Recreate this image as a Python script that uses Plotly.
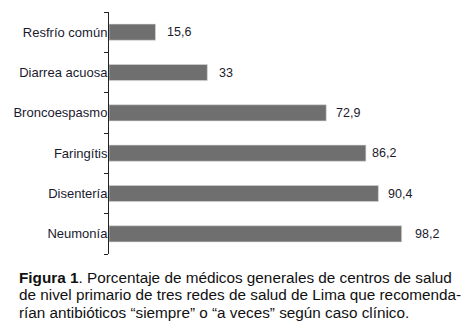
import plotly.graph_objects as go

categories = ["Resfrío común", "Diarrea acuosa", "Broncoespasmo", "Faringítis", "Disentería", "Neumonía"]
values = [15.6, 33, 72.9, 86.2, 90.4, 98.2]
value_labels = ["15,6", "33", "72,9", "86,2", "90,4", "98,2"]
label_shift = [10, 10, 8, 4, 8, 11]
caption_lines = [
    "<b>Figura 1</b>. Porcentaje de médicos generales de centros de salud",
    "de nivel primario de tres redes de salud de Lima que recomenda-",
    "rían antibióticos “siempre” o “a veces” según caso clínico.",
]

W, H = 470, 335
L, T = 109, 12
PLOT_H = 242
PLOT_W = 298

fig = go.Figure()
fig.add_trace(go.Bar(
    x=values, y=categories, orientation="h", width=0.4,
    marker=dict(color="#6f6f6f", line=dict(color="#d8d8d8", width=0.6)),
    hoverinfo="skip",
))

font = "Liberation Sans, Arial, sans-serif"
for v, lab, s, c in zip(values, value_labels, label_shift, categories):
    fig.add_annotation(x=v, y=c, text=lab, showarrow=False, xanchor="left",
                       xshift=s, font=dict(family=font, size=12.5, color="#1a1a2e"))

for i, line in enumerate(caption_lines):
    py = 277 + 17.5 * i
    fig.add_annotation(xref="paper", yref="paper", x=(17 - L) / PLOT_W,
                       y=(T + PLOT_H - py) / PLOT_H,
                       xanchor="left", yanchor="middle", align="left", showarrow=False,
                       text=line, font=dict(family=font, size=15.3, color="#111111"))

fig.update_layout(
    width=W, height=H,
    margin=dict(l=L, t=T, r=W - L - PLOT_W, b=H - T - PLOT_H, pad=0, autoexpand=False),
    paper_bgcolor="white", plot_bgcolor="white",
    showlegend=False,
    xaxis=dict(range=[0, 100], visible=False, automargin=False),
    yaxis=dict(categoryorder="array", categoryarray=categories[::-1],
               automargin=False,
               showline=True, linecolor="#222222", linewidth=1,
               ticks="outside", ticklen=4, tickcolor="#222222", tickson="boundaries",
               tickfont=dict(family=font, size=13, color="#1a1a2e"),
               ticklabelstandoff=-2, showgrid=False, zeroline=False),
)
fig.write_html("out.html", post_script="document.body.style.margin='0';",
               config={"displayModeBar": False})
